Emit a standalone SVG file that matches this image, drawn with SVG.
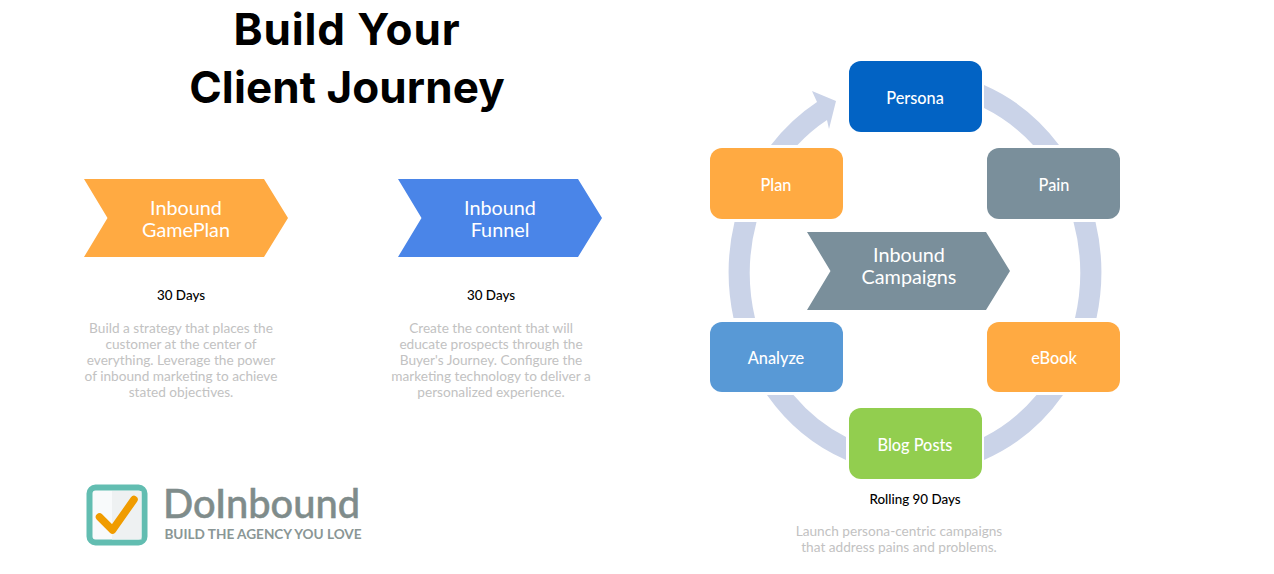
<svg xmlns="http://www.w3.org/2000/svg" width="1274" height="574" viewBox="0 0 1274 574">
<style>
text{font-family:"Lato","Open Sans","Liberation Sans",sans-serif;text-anchor:middle}
.title{font-family:"Inter","Liberation Sans",sans-serif;font-weight:700;font-size:44px;fill:#000}
.lbl{fill:#fff;font-size:16.300px;font-weight:500}
.chev{fill:#fff;font-size:19.800px;font-weight:400}
.days{fill:#000;font-size:13.400px;font-weight:500}
.desc{fill:#c2c2c2;font-size:13.650px;font-weight:400}
.ring{fill:#cad3e8}
</style>
<rect width="1274" height="574" fill="#fff"/>
<g id="title"><text class="title" x="347" y="45" letter-spacing=".9">Build Your</text><text class="title" x="347" y="103" letter-spacing=".1">Client Journey</text></g>

<g id="gameplan">
<polygon points="84,179 264,179 288,218 264,257 84,257 107.500,218" fill="#ffaa42"/>
<text class="chev" x="186" y="215">Inbound</text><text class="chev" x="186" y="237">GamePlan</text>
<text class="days" x="181" y="300">30 Days</text>
<text class="desc"><tspan x="181" y="333">Build a strategy that places the</tspan><tspan x="181" y="349">customer at the center of</tspan><tspan x="181" y="365">everything. Leverage the power</tspan><tspan x="181" y="381">of inbound marketing to achieve</tspan><tspan x="181" y="397">stated objectives.</tspan></text>
</g>
<g id="funnel">
<polygon points="398,179 578,179 602,218 578,257 398,257 421.500,218" fill="#4a85e8"/>
<text class="chev" x="500" y="215">Inbound</text><text class="chev" x="500" y="237">Funnel</text>
<text class="days" x="491" y="300">30 Days</text>
<text class="desc"><tspan x="491" y="333">Create the content that will</tspan><tspan x="491" y="349">educate prospects through the</tspan><tspan x="491" y="365">Buyer's Journey. Configure the</tspan><tspan x="491" y="381">marketing technology to deliver a</tspan><tspan x="491" y="397">personalized experience.</tspan></text>
</g>

<g id="connectors">
<path class="ring" d="M984 85A186 202 0 0 1 1059 145L1033 145A165 181 0 0 0 984 108Z"/>
<path class="ring" d="M1095.500 222A186 202 0 0 1 1096.500 318L1075 318A165 181 0 0 0 1073.500 222Z"/>
<path class="ring" d="M1063 395A186 202 0 0 1 984 460L984 437A165 181 0 0 0 1036.500 395Z"/>
<path class="ring" d="M846 460A186 202 0 0 1 767 395L793.500 395A165 181 0 0 0 846 437Z"/>
<path class="ring" d="M733.500 318A186 202 0 0 1 734.500 222L756.500 222A165 181 0 0 0 755 318Z"/>
<path class="ring" d="M771 145A186 202 0 0 1 817 102L812 91L836 101L829 129L827 120A165 181 0 0 0 797.500 145Z"/>
</g>

<g id="persona"><rect x="849" y="61" width="133" height="71" rx="12" fill="#0263c4"/><text class="lbl" x="915" y="104">Persona</text></g>
<g id="pain"><rect x="987" y="148" width="133" height="71" rx="12" fill="#7a8f9b"/><text class="lbl" x="1054" y="191">Pain</text></g>
<g id="ebook"><rect x="987" y="322" width="133" height="70" rx="12" fill="#ffaa42"/><text class="lbl" x="1054" y="364">eBook</text></g>
<g id="blog-posts"><rect x="849" y="408" width="133" height="71" rx="12" fill="#92ce4f"/><text class="lbl" x="915" y="451">Blog Posts</text></g>
<g id="analyze"><rect x="710" y="322" width="133" height="70" rx="12" fill="#5899d6"/><text class="lbl" x="776" y="364">Analyze</text></g>
<g id="plan"><rect x="710" y="148" width="133" height="71" rx="12" fill="#ffaa42"/><text class="lbl" x="776" y="191">Plan</text></g>

<g id="campaigns">
<polygon points="807,232 986,232 1010,271 986,310 807,310 830.500,271" fill="#7a8f9b"/>
<text class="chev" x="909" y="262">Inbound</text><text class="chev" x="909" y="284">Campaigns</text>
<text class="days" x="915" y="504">Rolling 90 Days</text>
<text class="desc"><tspan x="899" y="536">Launch persona-centric campaigns</tspan><tspan x="899" y="552">that address pains and problems.</tspan></text>
</g>

<g id="logo">
<rect x="89.500" y="487.500" width="55" height="55" rx="6" fill="#f8fafb" stroke="#62bdb1" stroke-width="6"/>
<path d="M112 491H141.500V539.500H112Z" fill="#eef1f2"/>
<polyline points="99.500,517 112.500,530 134,499.500" fill="none" stroke="#f09c00" stroke-width="7.500" stroke-linecap="round" stroke-linejoin="round"/>
<text x="261.500" y="518" font-size="39.800" font-weight="500" fill="#7f8c8b" stroke="#7f8c8b" stroke-width=".5">DoInbound</text>
<text x="263" y="539" font-size="13.600" font-weight="700" fill="#8a9695">BUILD THE AGENCY YOU LOVE</text>
</g>
</svg>
